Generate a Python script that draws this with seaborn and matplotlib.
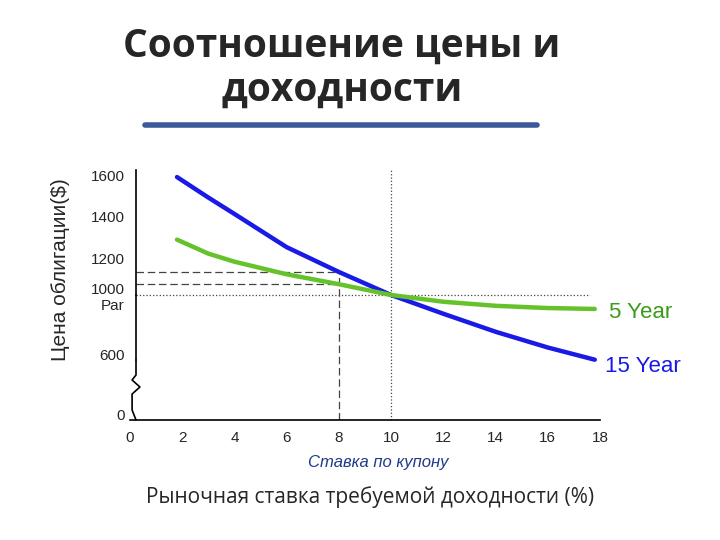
import numpy as np
import matplotlib
matplotlib.use("Agg")
import matplotlib.pyplot as plt
import seaborn as sns
import pandas as pd

sns.set_theme(style="white")
plt.rcParams['font.family'] = ['Liberation Sans', 'DejaVu Sans']

rates = [1.8, 3, 4, 6, 8, 10, 12, 14, 16, 17.8]
price_15y = [1590, 1490, 1410, 1255, 1128, 1000, 875, 755, 650, 553]
price_5y = [1290, 1225, 1185, 1115, 1060, 1000, 955, 928, 913, 907]
y_tick_vals = [0, 600, 1000, 1200, 1400, 1600]
y_tick_labels = ["0", "600", "1000\nPar", "1200", "1400", "1600"]
x_ticks = [0, 2, 4, 6, 8, 10, 12, 14, 16, 18]
# broken-axis display positions (pixels above x axis) for the tick values
y_tick_pos = [5, 65, 125, 161, 204, 245]

def ypos(v):
    return np.interp(v, y_tick_vals, y_tick_pos)

fig = plt.figure(figsize=(7.2, 5.4), dpi=100)
ax = fig.add_axes([130/720, 1-420/540, 470/720, 250/540])

df = pd.DataFrame({"rate": rates * 2,
                   "pos": list(ypos(price_15y)) + list(ypos(price_5y)),
                   "bond": ["15 Year"] * len(rates) + ["5 Year"] * len(rates)})
sns.lineplot(data=df, x="rate", y="pos", hue="bond",
             palette={"15 Year": "#1a1ae6", "5 Year": "#66c22a"},
             linewidth=3.2, legend=False, ax=ax, zorder=3)

ax.set_xlim(0, 18)
ax.set_ylim(0, 250)
ax.set_xticks(x_ticks)
ax.set_xticklabels([str(t) for t in x_ticks], fontsize=15)
for lbl in ax.get_xticklabels():
    if lbl.get_text() == "10":
        lbl.set_style("italic"); lbl.set_color("#1f3a8a")
ax.set_yticks(ypos(y_tick_vals))
ax.set_yticklabels(y_tick_labels, fontsize=15)
ax.tick_params(axis='both', length=0, pad=8)
ax.set_xlabel(""); ax.set_ylabel("")
for s in ["top", "right"]:
    ax.spines[s].set_visible(False)
for s in ["left", "bottom"]:
    ax.spines[s].set_color("black"); ax.spines[s].set_linewidth(1.2)
ax.spines["left"].set_position(("data", 0.23))
ax.spines["left"].set_bounds(ypos(1000) + 0, 250)
ax.spines["bottom"].set_position(("data", 0))

# broken-axis zigzag
x0 = 0.23
ax.plot([x0, x0, x0 - 0.15, x0 + 0.15, x0 - 0.15, x0 - 0.15, x0], [60, 45, 40, 33, 26, 10, 0],
        color="black", lw=1.2, clip_on=False)
ax.plot([x0, x0], [125, 60], color="black", lw=1.2, clip_on=False)

# reference lines
p15_8, p5_8 = ypos(1128), ypos(1060)
ax.plot([8, 8], [0, p15_8], color="#444", lw=0.9, ls=(0, (6, 3)))
ax.plot([x0, 8], [p15_8, p15_8], color="#444", lw=0.9, ls=(0, (6, 3)))
ax.plot([x0, 8], [p5_8, p5_8], color="#444", lw=0.9, ls=(0, (6, 3)))
ax.plot([x0, 17.6], [ypos(1000)] * 2, color="#444", lw=0.9, ls=":")
ax.plot([10, 10], [0, 250], color="#444", lw=0.9, ls=":")

fig.text(641/720, 1-313/540, "5 Year", color="#3a9a1a", fontsize=16, ha="center", va="center")
fig.text(643/720, 1-367/540, "15 Year", color="#1a1ae6", fontsize=16, ha="center", va="center")
fig.text(378/720, 1-463/540, "Ставка по купону", color="#1f3a8a", fontsize=12,
         style="italic", ha="center", va="center")
fig.text(370/720, 1-497/540, "Рыночная ставка требуемой доходности (%)", fontsize=15,
         family=["Open Sans", "DejaVu Sans"], ha="center", va="center")
fig.text(60/720, 1-270/540, "Цена облигации($)", fontsize=15, rotation=90,
         ha="center", va="center")
fig.text(342/720, 1-68/540, "Соотношение цены и\nдоходности", fontsize=28,
         fontweight="bold", family=["Open Sans", "DejaVu Sans"], ha="center", va="center",
         linespacing=1.15)
fig.add_artist(plt.Line2D([145/720, 537/720], [1-125/540] * 2, color="#3b5a9a", lw=4))

fig.savefig("out.png", dpi=100)
